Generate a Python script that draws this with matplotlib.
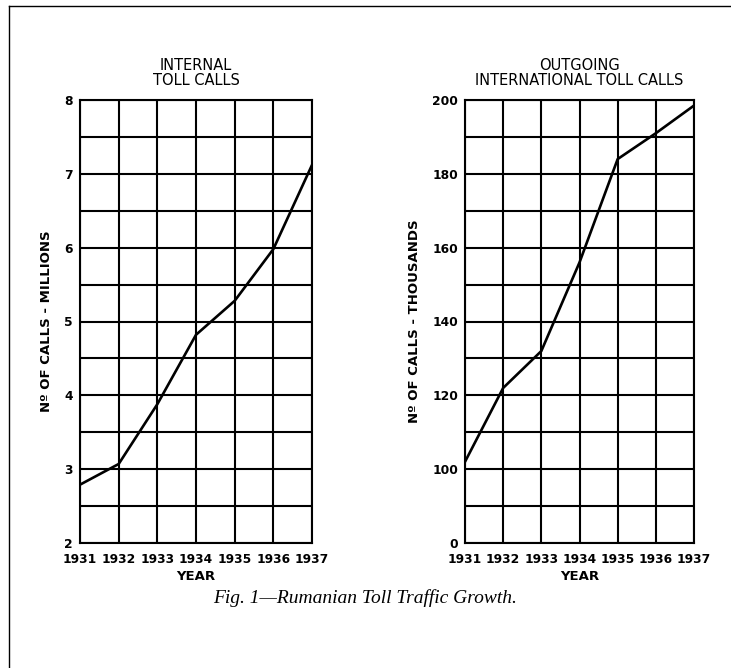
import numpy as np
import matplotlib
matplotlib.use("Agg")
import matplotlib.pyplot as plt
from matplotlib.lines import Line2D

years = [1931, 1932, 1933, 1934, 1935, 1936, 1937]
internal_millions = [2.79, 3.07, 3.88, 4.82, 5.28, 5.98, 7.12]
international_thousands = [102, 122, 132, 156, 184, 191, 198.5]

left_grid = [2, 2.5, 3, 3.5, 4, 4.5, 5, 5.5, 6, 6.5, 7, 7.5, 8]
left_labels = ["2", "", "3", "", "4", "", "5", "", "6", "", "7", "", "8"]
right_grid = [0, 50, 100, 110, 120, 130, 140, 150, 160, 170, 180, 190, 200]
right_labels = ["0", "", "100", "", "120", "", "140", "", "160", "", "180", "", "200"]

left_title = "INTERNAL\nTOLL CALLS"
right_title = "OUTGOING\nINTERNATIONAL TOLL CALLS"
left_ylabel = "Nº OF CALLS - MILLIONS"
right_ylabel = "Nº OF CALLS - THOUSANDS"
xlabel = "YEAR"
caption = "Fig. 1—Rumanian Toll Traffic Growth."

def fwd(v):
    v = np.asarray(v, dtype=float)
    return np.where(v < 100, v / 50.0, 2 + (v - 100) / 10.0)

def inv(u):
    u = np.asarray(u, dtype=float)
    return np.where(u < 2, u * 50.0, 100 + (u - 2) * 10.0)

fig = plt.figure(figsize=(7.31, 6.68), dpi=100)
W, H = 731, 668

def add_ax(x0, x1, ytop, ybot):
    return fig.add_axes([x0 / W, 1 - ybot / H, (x1 - x0) / W, (ybot - ytop) / H])

axL = add_ax(80, 312, 100, 543)
axR = add_ax(465, 694, 100, 543)

tick_font = dict(family="DejaVu Sans", weight="bold", size=8.8)
lab_font = dict(family="DejaVu Sans", weight="bold", size=9.5)

for ax, y, grid, labels, title, ylab in [
    (axL, internal_millions, left_grid, left_labels, left_title, left_ylabel),
    (axR, international_thousands, right_grid, right_labels, right_title, right_ylabel),
]:
    if ax is axR:
        ax.set_yscale("function", functions=(fwd, inv))
    ax.plot(years, y, color="black", lw=1.9, solid_capstyle="round", zorder=3)
    ax.set_xlim(years[0], years[-1])
    ax.set_ylim(grid[0], grid[-1])
    ax.set_xticks(years)
    ax.set_xticklabels([str(v) for v in years], fontdict=tick_font)
    ax.set_yticks(grid)
    ax.set_yticklabels(labels, fontdict=tick_font)
    ax.yaxis.set_minor_locator(matplotlib.ticker.NullLocator())
    ax.tick_params(length=0, pad=5)
    ax.tick_params(axis="x", pad=7)
    ax.grid(True, color="black", lw=1.5)
    for s in ax.spines.values():
        s.set_color("black")
        s.set_linewidth(1.5)
    ax.set_xlabel(xlabel, fontdict=lab_font, labelpad=3)
    ax.set_ylabel(ylab, fontdict=dict(family="DejaVu Sans", weight="bold", size=9.5), labelpad=8)
    ax.set_title(title, fontdict=dict(family="DejaVu Sans", size=10.5), linespacing=1.0, pad=11)

fig.text(365 / W, 1 - 598 / H, caption, ha="center", va="center",
         family="Liberation Serif", style="italic", size=14)

fig.add_artist(Line2D([9 / W, 9 / W], [1 - 6 / H, 0], transform=fig.transFigure, color="black", lw=1))
fig.add_artist(Line2D([9 / W, 1], [1 - 6 / H, 1 - 6 / H], transform=fig.transFigure, color="black", lw=1))

fig.savefig("out.png", dpi=100, facecolor="white")
